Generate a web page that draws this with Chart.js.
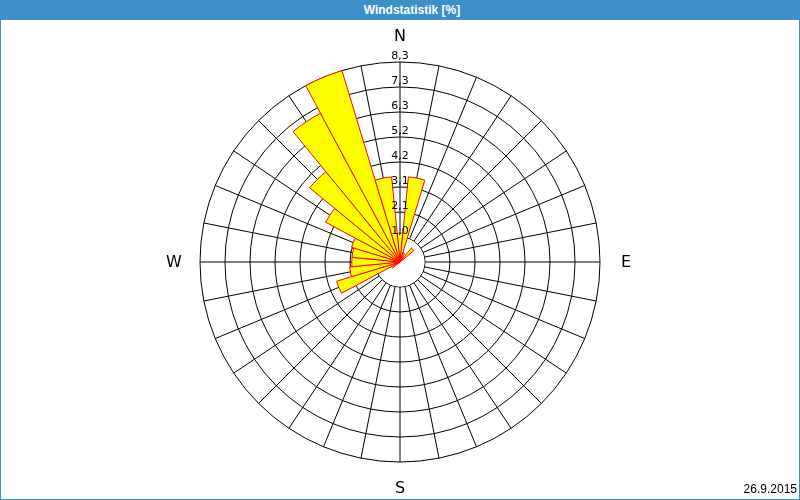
<!DOCTYPE html>
<html><head><meta charset="utf-8">
<script src="https://cdn.jsdelivr.net/npm/chart.js@4"></script>
<style>
html,body{margin:0;padding:0;background:#fff;}
#wrap{position:relative;width:800px;height:500px;overflow:hidden;background:#fff;}
#frame{position:absolute;left:0;top:0;width:798px;height:499px;border:1px solid #3c8fc7;border-top:none;box-sizing:content-box;}
#bar{position:absolute;left:0;top:0;width:800px;height:20px;background:#3c8fc7;}
#title{position:absolute;top:3px;left:362px;width:100px;text-align:center;color:#fff;font:bold 12px 'Liberation Sans',sans-serif;white-space:nowrap;}
#date{position:absolute;right:3px;top:482px;font:12px 'Liberation Sans',sans-serif;color:#000;}
#c{position:absolute;left:0;top:0;}
</style></head>
<body>
<div id="wrap">
  <div id="frame"></div>
  <div id="bar"></div>
  <div id="title">Windstatistik [%]</div>
  <canvas id="c" width="800" height="500"></canvas>
  <div id="date">26.9.2015</div>
</div>
<script>
// 32 wind directions (11.25° each), clockwise from north
const directions = ['N','NzO','NNO','NOzN','NO','NOzO','ONO','OzN','O','OzS','OSO','SOzO','SO','SOzS','SSO','SzO',
                    'S','SzW','SSW','SWzS','SW','SWzW','WSW','WzS','W','WzN','WNW','NWzW','NW','NWzN','NNW','NzW'];
// frequency in %
const frequency = [1.2, 3.55, 0.4, 0.3, 0.75, 0, 0, 0, 0, 0, 0, 0, 0, 0, 0, 0,
                   0, 0, 0, 0, 0, 0.4, 2.75, 2.1, 2.0, 2.0, 2.1, 3.5, 4.85, 7.0, 8.3, 3.55];
const tickValues = [0, 1.0375, 2.075, 3.1125, 4.15, 5.1875, 6.225, 7.2625, 8.3];
const tickLabels = ['', '1,0', '2,1', '3,1', '4,2', '5,2', '6,3', '7,3', '8,3'];
const compass = [['N', 0], ['E', 90], ['S', 180], ['W', 270]];

const sector = 360 / directions.length;

const rosePlugin = {
  id: 'rose',
  beforeDatasetsDraw(chart) {
    const s = chart.scales.r, ctx = chart.ctx;
    const cx = s.xCenter, cy = s.yCenter;
    const r0 = s.getDistanceFromCenterForValue(tickValues[1]);
    const r1 = s.getDistanceFromCenterForValue(tickValues[tickValues.length - 1]);
    ctx.save();
    ctx.fillStyle = '#fff';
    ctx.beginPath(); ctx.arc(cx, cy, r0 - 0.5, 0, Math.PI * 2); ctx.fill();
    ctx.strokeStyle = '#000'; ctx.lineWidth = 1;
    ctx.beginPath();
    for (let i = 0; i < directions.length; i++) {
      const a = (i * sector - 90) * Math.PI / 180;
      ctx.moveTo(cx + r0 * Math.cos(a), cy + r0 * Math.sin(a));
      ctx.lineTo(cx + r1 * Math.cos(a), cy + r1 * Math.sin(a));
    }
    ctx.stroke();
    ctx.restore();
  },
  afterDatasetsDraw(chart) {
    const s = chart.scales.r, ctx = chart.ctx;
    const cx = s.xCenter, cy = s.yCenter;
    ctx.save();
    ctx.fillStyle = '#000';
    ctx.font = '11px "DejaVu Sans", sans-serif';
    ctx.textAlign = 'center';
    ctx.textBaseline = 'bottom';
    tickValues.forEach((v, i) => {
      if (!tickLabels[i]) return;
      const d = s.getDistanceFromCenterForValue(v);
      ctx.fillText(tickLabels[i], cx, cy - d);
    });
    const r1 = s.getDistanceFromCenterForValue(tickValues[tickValues.length - 1]);
    ctx.font = '16px "DejaVu Sans", sans-serif';
    ctx.textBaseline = 'middle';
    compass.forEach(([t, deg]) => {
      const a = (deg - 90) * Math.PI / 180;
      const rr = r1 + 26;
      ctx.fillText(t, cx + rr * Math.cos(a), cy + rr * Math.sin(a) + 1);
    });
    ctx.restore();
  }
};

new Chart(document.getElementById('c'), {
  type: 'polarArea',
  data: {
    labels: directions,
    datasets: [{
      data: frequency,
      backgroundColor: '#ffff00',
      borderColor: '#ff0000',
      borderWidth: 1
    }]
  },
  options: {
    responsive: false,
    animation: false,
    events: [],
    layout: { padding: { left: 200, right: 200, top: 62, bottom: 38 } },
    plugins: { legend: { display: false }, tooltip: { enabled: false } },
    scales: {
      r: {
        min: 0, max: 8.3,
        startAngle: -sector / 2,
        afterBuildTicks(scale) { scale.ticks = tickValues.map(v => ({ value: v })); },
        ticks: { display: false },
        grid: { display: true, circular: true, color: '#000', lineWidth: 1 },
        angleLines: { display: false },
        pointLabels: { display: false }
      }
    }
  },
  plugins: [rosePlugin]
});
</script>
</body></html>
